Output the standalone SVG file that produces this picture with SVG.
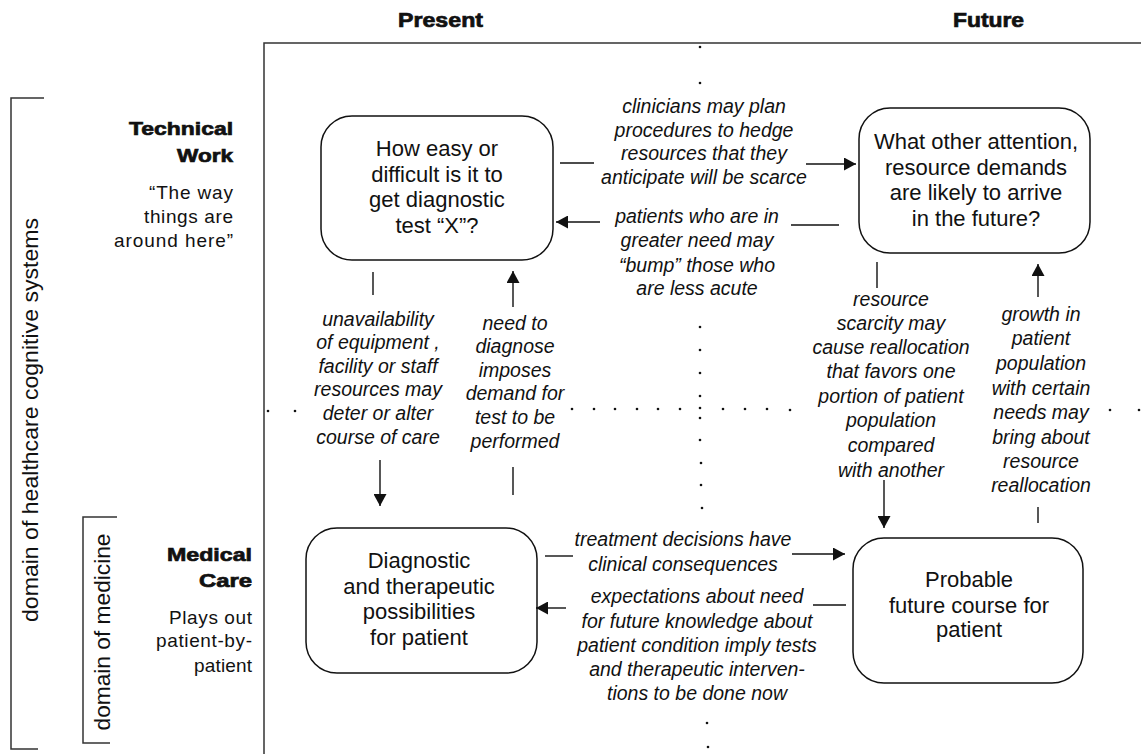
<svg xmlns="http://www.w3.org/2000/svg" width="1141" height="754" viewBox="0 0 1141 754">
<style>
text{font-family:"Liberation Sans",Arial,sans-serif;fill:#111}
.hd{font-size:20px;font-weight:bold;stroke:#111;stroke-width:0.7}
.rb{font-size:19px;font-weight:bold;stroke:#111;stroke-width:0.7;text-anchor:end}
.rn{font-size:19px;text-anchor:end}
.rot{font-size:22px}
.bx{font-size:22px;text-anchor:middle}
.lb{font-size:19.5px;font-style:italic;text-anchor:middle}
.frame{fill:none;stroke:#333;stroke-width:1.5}
.node{fill:#fff;stroke:#111;stroke-width:1.5}
.ln{fill:none;stroke:#111;stroke-width:1.4}
.ar{fill:none;stroke:#111;stroke-width:1.4;marker-end:url(#ah)}
.dot{fill:#111}
</style>
<defs>
<marker id="ah" markerUnits="userSpaceOnUse" markerWidth="13" markerHeight="13" refX="12" refY="6.5" orient="auto">
<path d="M0,0 L12,6.5 L0,13 z" fill="#111"/>
</marker>
</defs>
<rect width="1141" height="754" fill="#fff"/>

<g id="frame">
<path class="frame" d="M264,754 V43 H1141"/>
<path class="frame" d="M44,98 H11 V749 H38"/>
<path class="frame" d="M117,517 H83 V743 H110"/>
</g>

<g id="headers">
<text class="hd" x="398" y="27" textLength="85" lengthAdjust="spacingAndGlyphs">Present</text>
<text class="hd" x="953" y="27" textLength="71" lengthAdjust="spacingAndGlyphs">Future</text>
</g>

<g id="axis-labels">
<text class="rot" transform="translate(38,420) rotate(-90)" text-anchor="middle" textLength="404" lengthAdjust="spacingAndGlyphs">domain of healthcare cognitive systems</text>
<text class="rot" transform="translate(110,632) rotate(-90)" text-anchor="middle" textLength="197" lengthAdjust="spacingAndGlyphs">domain of medicine</text>
</g>

<g id="row-technical">
<text class="rb" x="233" y="135" textLength="104" lengthAdjust="spacingAndGlyphs">Technical</text>
<text class="rb" x="233" y="162" textLength="56" lengthAdjust="spacingAndGlyphs">Work</text>
<text class="rn" x="233" y="199" textLength="84">“The way</text>
<text class="rn" x="233" y="223" textLength="89">things are</text>
<text class="rn" x="233" y="247" textLength="119">around here”</text>
</g>

<g id="row-medical">
<text class="rb" x="252" y="561" textLength="85" lengthAdjust="spacingAndGlyphs">Medical</text>
<text class="rb" x="252" y="587" textLength="53" lengthAdjust="spacingAndGlyphs">Care</text>
<text class="rn" x="252" y="624" textLength="83">Plays out</text>
<text class="rn" x="252" y="647" textLength="96">patient-by-</text>
<text class="rn" x="252" y="672" textLength="58">patient</text>
</g>

<g id="grid-dots">
<circle class="dot" cx="700" cy="47" r="1.3"/>
<circle class="dot" cx="700" cy="83" r="1.3"/>
<circle class="dot" cx="700" cy="327" r="1.3"/>
<circle class="dot" cx="700" cy="350" r="1.3"/>
<circle class="dot" cx="700" cy="373" r="1.3"/>
<circle class="dot" cx="700" cy="396" r="1.3"/>
<circle class="dot" cx="700" cy="418" r="1.3"/>
<circle class="dot" cx="700" cy="440" r="1.3"/>
<circle class="dot" cx="701" cy="463" r="1.3"/>
<circle class="dot" cx="701" cy="485" r="1.3"/>
<circle class="dot" cx="702" cy="508" r="1.3"/>
<circle class="dot" cx="707" cy="723" r="1.3"/>
<circle class="dot" cx="708" cy="747" r="1.3"/>
<circle class="dot" cx="268" cy="411" r="1.3"/>
<circle class="dot" cx="295" cy="411" r="1.3"/>
<circle class="dot" cx="572" cy="409" r="1.3"/>
<circle class="dot" cx="594" cy="409" r="1.3"/>
<circle class="dot" cx="615" cy="409" r="1.3"/>
<circle class="dot" cx="637" cy="409" r="1.3"/>
<circle class="dot" cx="658" cy="409" r="1.3"/>
<circle class="dot" cx="680" cy="409" r="1.3"/>
<circle class="dot" cx="700" cy="408" r="1.3"/>
<circle class="dot" cx="723" cy="409" r="1.3"/>
<circle class="dot" cx="745" cy="409" r="1.3"/>
<circle class="dot" cx="767" cy="409" r="1.3"/>
<circle class="dot" cx="790" cy="410" r="1.3"/>
<circle class="dot" cx="1110" cy="410" r="1.3"/>
<circle class="dot" cx="1139" cy="410" r="1.3"/>
</g>

<g id="node-diagnostic-test">
<rect class="node" x="321" y="116" width="232" height="144" rx="31"/>
<text class="bx" x="437" y="156">How easy or</text>
<text class="bx" x="437" y="182">difficult is it to</text>
<text class="bx" x="437" y="207">get diagnostic</text>
<text class="bx" x="437" y="233">test “X”?</text>
</g>

<g id="node-future-demands">
<rect class="node" x="859" y="108" width="231" height="145" rx="31"/>
<text class="bx" x="976" y="149">What other attention,</text>
<text class="bx" x="976" y="175">resource demands</text>
<text class="bx" x="976" y="200">are likely to arrive</text>
<text class="bx" x="976" y="226">in the future?</text>
</g>

<g id="node-possibilities">
<rect class="node" x="306" y="528" width="231" height="145" rx="31"/>
<text class="bx" x="419" y="568">Diagnostic</text>
<text class="bx" x="419" y="594">and therapeutic</text>
<text class="bx" x="419" y="619">possibilities</text>
<text class="bx" x="419" y="645">for patient</text>
</g>

<g id="node-future-course">
<rect class="node" x="853" y="538" width="230" height="145" rx="31"/>
<text class="bx" x="969" y="587">Probable</text>
<text class="bx" x="969" y="613">future course for</text>
<text class="bx" x="969" y="637">patient</text>
</g>

<g id="connectors">
<line class="ln" x1="560" y1="163" x2="594" y2="163"/>
<line class="ar" x1="806" y1="164" x2="856" y2="164"/>
<line class="ln" x1="791" y1="225" x2="839" y2="225"/>
<line class="ar" x1="600" y1="222" x2="556" y2="222"/>
<line class="ln" x1="373" y1="272" x2="373" y2="295"/>
<line class="ar" x1="380" y1="460" x2="380" y2="506"/>
<line class="ar" x1="513" y1="307" x2="513" y2="271"/>
<line class="ln" x1="513" y1="467" x2="513" y2="495"/>
<line class="ln" x1="877" y1="262" x2="877" y2="288"/>
<line class="ar" x1="884" y1="480" x2="884" y2="528"/>
<line class="ar" x1="1038" y1="297" x2="1038" y2="264"/>
<line class="ln" x1="1038" y1="507" x2="1038" y2="523"/>
<line class="ln" x1="545" y1="556" x2="573" y2="556"/>
<line class="ar" x1="792" y1="554" x2="845" y2="554"/>
<line class="ln" x1="813" y1="605" x2="846" y2="605"/>
<line class="ar" x1="566" y1="608" x2="536" y2="608"/>
</g>

<g id="label-hedge">
<text class="lb" x="704" y="113">clinicians may plan</text>
<text class="lb" x="704" y="137">procedures to hedge</text>
<text class="lb" x="704" y="160">resources that they</text>
<text class="lb" x="704" y="184">anticipate will be scarce</text>
</g>

<g id="label-bump">
<text class="lb" x="697" y="223">patients who are in</text>
<text class="lb" x="697" y="247">greater need may</text>
<text class="lb" x="697" y="272">“bump” those who</text>
<text class="lb" x="697" y="295">are less acute</text>
</g>

<g id="label-unavailability">
<text class="lb" x="378" y="326">unavailability</text>
<text class="lb" x="378" y="349">of equipment ,</text>
<text class="lb" x="378" y="373">facility or staff</text>
<text class="lb" x="378" y="396">resources may</text>
<text class="lb" x="378" y="420">deter or alter</text>
<text class="lb" x="378" y="444">course of care</text>
</g>

<g id="label-need">
<text class="lb" x="515" y="330">need to</text>
<text class="lb" x="515" y="353">diagnose</text>
<text class="lb" x="515" y="377">imposes</text>
<text class="lb" x="515" y="400">demand for</text>
<text class="lb" x="515" y="424">test  to be</text>
<text class="lb" x="515" y="448">performed</text>
</g>

<g id="label-scarcity">
<text class="lb" x="891" y="306">resource</text>
<text class="lb" x="891" y="330">scarcity may</text>
<text class="lb" x="891" y="354">cause reallocation</text>
<text class="lb" x="891" y="378">that favors one</text>
<text class="lb" x="891" y="403">portion of patient</text>
<text class="lb" x="891" y="427">population</text>
<text class="lb" x="891" y="452">compared</text>
<text class="lb" x="891" y="477">with another</text>
</g>

<g id="label-growth">
<text class="lb" x="1041" y="321">growth in</text>
<text class="lb" x="1041" y="345">patient</text>
<text class="lb" x="1041" y="370">population</text>
<text class="lb" x="1041" y="395">with certain</text>
<text class="lb" x="1041" y="419">needs may</text>
<text class="lb" x="1041" y="444">bring about</text>
<text class="lb" x="1041" y="468">resource</text>
<text class="lb" x="1041" y="492">reallocation</text>
</g>

<g id="label-treatment">
<text class="lb" x="683" y="546">treatment decisions have</text>
<text class="lb" x="683" y="571">clinical consequences</text>
</g>

<g id="label-expectations">
<text class="lb" x="697" y="603">expectations about need</text>
<text class="lb" x="697" y="628">for future knowledge about</text>
<text class="lb" x="697" y="652">patient condition imply tests</text>
<text class="lb" x="697" y="676">and therapeutic interven-</text>
<text class="lb" x="697" y="700">tions to be done now</text>
</g>
</svg>
